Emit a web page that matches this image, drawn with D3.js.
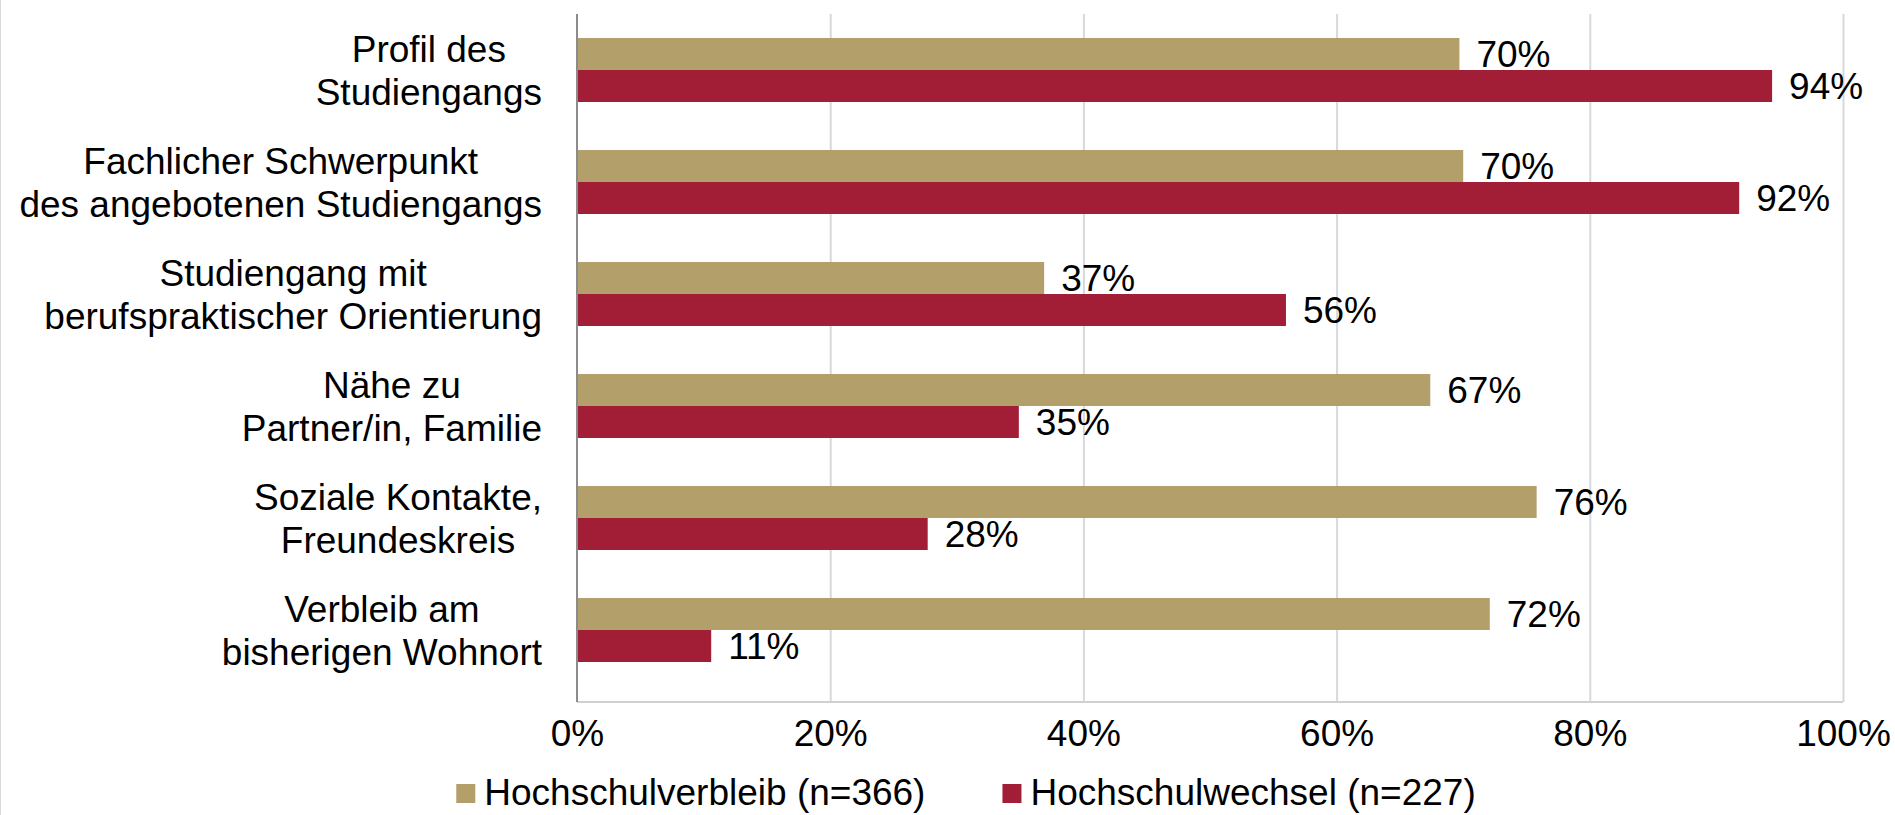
<!DOCTYPE html>
<html>
<head>
<meta charset="utf-8">
<script src="https://cdn.jsdelivr.net/npm/d3@7/dist/d3.min.js"></script>
<style>
  html, body { margin: 0; padding: 0; background: #fff; }
  svg { display: block; font-family: "Liberation Sans", Arial, sans-serif; }
</style>
</head>
<body>
<svg id="chart" width="1895" height="815"></svg>
<script>
// categories, top to bottom (line breaks as in the original)
const categories = [
    ["Profil des", "Studiengangs"],
    ["Fachlicher Schwerpunkt", "des angebotenen Studiengangs"],
    ["Studiengang mit", "berufspraktischer Orientierung"],
    ["Nähe zu", "Partner/in, Familie"],
    ["Soziale Kontakte,", "Freundeskreis"],
    ["Verbleib am", "bisherigen Wohnort"]
];
const seriesNames = ["Hochschulverbleib (n=366)", "Hochschulwechsel (n=227)"];
const verbleib = [69.7, 70.0, 36.9, 67.4, 75.8, 72.1];
const wechsel = [94.4, 91.8, 56.0, 34.9, 27.7, 10.6];
const xTicks = [0, 20, 40, 60, 80, 100];

const svg = d3.select('#chart');
const colors = ["#b39f6a", "#a21e37"];
const fontSize = 37;

// plot area
const plotLeft = 577, plotRight = 1843;
const plotTop = 14, plotBottom = 702;

const keys = categories.map(c => c.join(' '));
const series = [verbleib, wechsel];

const xScale = d3.scaleLinear().domain([0, 100]).range([plotLeft, plotRight]);
const yScale = d3.scaleBand().domain(keys).range([plotTop, 686])
    .paddingInner(0.4286).paddingOuter(0.2143);
const subScale = d3.scaleBand().domain(seriesNames).range([0, yScale.bandwidth()]);

// frame line on the left edge
svg.append('line')
    .attr('x1', 0.5).attr('x2', 0.5).attr('y1', 0).attr('y2', 815)
    .attr('stroke', '#d9d9d9').attr('stroke-width', 1);

// gridlines
const grid = svg.append('g')
    .attr('transform', `translate(0, ${plotBottom})`)
    .call(d3.axisBottom(xScale).tickValues(xTicks.slice(1)).tickSize(-(plotBottom - plotTop)).tickFormat(''));
grid.select('.domain').remove();
grid.selectAll('line').attr('stroke', '#d6d9dc').attr('stroke-width', 2);

// bottom axis line and tick labels
const xAxisG = svg.append('g')
    .attr('transform', `translate(0, ${plotBottom})`)
    .call(d3.axisBottom(xScale).tickValues(xTicks).tickSize(0).tickPadding(18).tickFormat(d => d + '%'));
xAxisG.select('.domain').remove();
xAxisG.selectAll('text')
    .attr('font-size', fontSize)
    .attr('font-family', '"Liberation Sans", Arial, sans-serif')
    .attr('fill', '#000');

svg.append('line')
    .attr('x1', plotLeft).attr('x2', plotRight)
    .attr('y1', plotBottom).attr('y2', plotBottom)
    .attr('stroke', '#d0d0d0').attr('stroke-width', 2);

// bars
const groups = svg.selectAll('.group')
    .data(keys).join('g')
    .attr('class', 'group')
    .attr('transform', d => `translate(0, ${yScale(d)})`);

seriesNames.forEach((name, s) => {
    groups.append('rect')
        .attr('x', xScale(0))
        .attr('y', subScale(name))
        .attr('height', subScale.bandwidth())
        .attr('width', (d, i) => xScale(series[s][i]) - xScale(0))
        .attr('fill', colors[s]);

    groups.append('text')
        .attr('x', (d, i) => xScale(series[s][i]) + 17)
        .attr('y', subScale(name) + subScale.bandwidth() / 2)
        .attr('dy', '0.36em')
        .attr('font-size', fontSize)
        .attr('fill', '#000')
        .text((d, i) => Math.round(series[s][i]) + '%');
});

// category axis line
svg.append('line')
    .attr('x1', plotLeft).attr('x2', plotLeft)
    .attr('y1', plotTop).attr('y2', plotBottom)
    .attr('stroke', '#8c8c8c').attr('stroke-width', 2);

// category labels, lines centred in a block whose right edge sits left of the axis
const lineHeight = 43;
const labelRight = 542;
categories.forEach((lines, i) => {
    const cy = yScale(keys[i]) + yScale.bandwidth() / 2;
    const t = svg.append('text')
        .attr('font-size', fontSize)
        .attr('fill', '#000')
        .attr('text-anchor', 'middle');
    const spans = lines.map((line, j) => t.append('tspan')
        .attr('y', cy + (j - (lines.length - 1) / 2) * lineHeight)
        .attr('dy', '0.36em')
        .text(line));
    const blockWidth = d3.max(spans, s => s.node().getComputedTextLength());
    spans.forEach(s => s.attr('x', labelRight - blockWidth / 2));
});

// legend
const legendY = 792;
const legend = svg.append('g');
let lx = 0;
seriesNames.forEach((name, s) => {
    legend.append('rect')
        .attr('x', lx).attr('y', legendY - 8)
        .attr('width', 19).attr('height', 19)
        .attr('fill', colors[s]);
    const txt = legend.append('text')
        .attr('x', lx + 28).attr('y', legendY)
        .attr('dy', '0.36em')
        .attr('font-size', fontSize)
        .attr('fill', '#000')
        .text(name);
    lx += 28 + txt.node().getComputedTextLength() + 77;
});
const legendWidth = lx - 77;
legend.attr('transform', `translate(${966 - legendWidth / 2}, 0)`);
</script>
</body>
</html>
